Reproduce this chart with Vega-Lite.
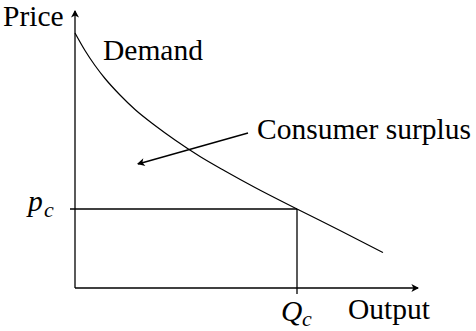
{
  "$schema": "https://vega.github.io/schema/vega-lite/v6.json",
  "width": 476,
  "height": 331,
  "padding": 0,
  "autosize": {"type": "fit", "contains": "padding"},
  "background": "white",
  "config": {"view": {"stroke": null}},
  "datasets": {
    "segs": [
      {"part": "price axis", "x": 0, "y": 0, "x2": 0, "y2": 277},
      {"part": "output axis", "x": 0, "y": 0, "x2": 343, "y2": 0},
      {"part": "pc line", "x": -5, "y": 79, "x2": 222, "y2": 79},
      {"part": "Qc line", "x": 222, "y": 79, "x2": 222, "y2": -6},
      {"part": "pointer", "x": 173, "y": 155, "x2": 63, "y2": 124}
    ],
    "demand": [
      {"x": 0, "y": 255}, {"x": 10, "y": 237.5}, {"x": 20, "y": 222.5},
      {"x": 30, "y": 209.5}, {"x": 45, "y": 193}, {"x": 60, "y": 178.5},
      {"x": 80, "y": 162.5}, {"x": 100, "y": 148}, {"x": 125, "y": 131.5},
      {"x": 150, "y": 117}, {"x": 180, "y": 100.5}, {"x": 222, "y": 79},
      {"x": 265, "y": 57.5}, {"x": 308, "y": 35.5}
    ],
    "heads": [
      {"part": "price axis", "x": 0, "y": 278},
      {"part": "output axis", "x": 344, "y": 0},
      {"part": "pointer", "x": 62, "y": 124}
    ],
    "labels": [
      {"text": "Price", "x": -72, "y": 262},
      {"text": "Demand", "x": 28, "y": 228},
      {"text": "Consumer surplus", "x": 182, "y": 149},
      {"text": "Output", "x": 273, "y": -31}
    ],
    "symbols": [
      {"text": "p", "x": -47, "y": 77},
      {"text": "Q", "x": 206, "y": -33}
    ],
    "subs": [
      {"text": "c", "x": -31, "y": 71},
      {"text": "c", "x": 227, "y": -38}
    ]
  },
  "encoding": {
    "x": {"field": "x", "type": "quantitative", "scale": {"domain": [-75, 401], "nice": false, "zero": false}, "axis": null},
    "y": {"field": "y", "type": "quantitative", "scale": {"domain": [-43, 288], "nice": false, "zero": false}, "axis": null}
  },
  "layer": [
    {
      "data": {"name": "segs"},
      "mark": {"type": "rule", "color": "black", "strokeWidth": 1.3},
      "encoding": {"x2": {"field": "x2"}, "y2": {"field": "y2"}}
    },
    {
      "data": {"name": "demand"},
      "mark": {"type": "line", "color": "black", "strokeWidth": 1.2, "interpolate": "monotone"},
      "encoding": {"order": {"field": "x", "type": "quantitative"}}
    },
    {
      "data": {"name": "heads"},
      "transform": [{"filter": "datum.part == 'price axis'"}],
      "mark": {"type": "point", "shape": "M0,0L-1,1.9L0,1.4L1,1.9Z", "filled": true, "color": "black", "opacity": 1, "size": 64, "angle": 0, "strokeWidth": 0},
      "encoding": {}
    },
    {
      "data": {"name": "heads"},
      "transform": [{"filter": "datum.part == 'output axis'"}],
      "mark": {"type": "point", "shape": "M0,0L-1,1.9L0,1.4L1,1.9Z", "filled": true, "color": "black", "opacity": 1, "size": 64, "angle": 90, "strokeWidth": 0},
      "encoding": {}
    },
    {
      "data": {"name": "heads"},
      "transform": [{"filter": "datum.part == 'pointer'"}],
      "mark": {"type": "point", "shape": "M0,0L-1,1.9L0,1.4L1,1.9Z", "filled": true, "color": "black", "opacity": 1, "size": 64, "angle": 255, "strokeWidth": 0},
      "encoding": {}
    },
    {
      "data": {"name": "labels"},
      "mark": {"type": "text", "font": "Liberation Serif", "fontSize": 29.5, "align": "left", "baseline": "alphabetic", "color": "black"},
      "encoding": {"text": {"field": "text"}}
    },
    {
      "data": {"name": "symbols"},
      "mark": {"type": "text", "font": "Liberation Serif", "fontStyle": "italic", "fontSize": 29.5, "align": "left", "baseline": "alphabetic", "color": "black"},
      "encoding": {"text": {"field": "text"}}
    },
    {
      "data": {"name": "subs"},
      "mark": {"type": "text", "font": "Liberation Serif", "fontStyle": "italic", "fontSize": 22, "align": "left", "baseline": "alphabetic", "color": "black"},
      "encoding": {"text": {"field": "text"}}
    }
  ]
}
